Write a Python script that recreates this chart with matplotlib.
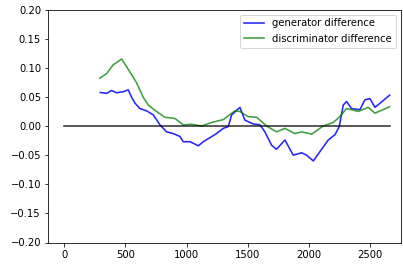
import matplotlib
matplotlib.use("Agg")
import matplotlib.pyplot as plt

# values
gen_x = [295, 346, 387, 428, 483, 523, 549, 579, 618, 673, 728, 782, 837, 891, 946,
         973, 1027, 1068, 1096, 1136, 1191, 1245, 1300, 1341, 1368, 1436, 1477, 1545,
         1600, 1640, 1695, 1735, 1804, 1872, 1940, 1981, 2036, 2090, 2158, 2213, 2248,
         2281, 2308, 2348, 2417, 2458, 2499, 2540, 2581, 2660]
gen_y = [0.0575, 0.056, 0.061, 0.057, 0.059, 0.062, 0.050, 0.039, 0.030, 0.026,
         0.019, 0.002, -0.010, -0.013, -0.018, -0.027, -0.027, -0.031, -0.034,
         -0.027, -0.020, -0.013, -0.004, -0.001, 0.019, 0.032, 0.010, 0.0035, 0.002,
         -0.010, -0.033, -0.040, -0.024, -0.050, -0.046, -0.050, -0.060, -0.044,
         -0.024, -0.015, -0.001, 0.036, 0.042, 0.030, 0.028, 0.045, 0.047, 0.032,
         0.039, 0.053]

dis_x = [291, 346, 400, 469, 509, 592, 646, 687, 754, 823, 904, 973, 1041, 1122,
         1205, 1300, 1395, 1436, 1504, 1573, 1654, 1735, 1804, 1885, 1940, 2022,
         2117, 2199, 2253, 2308, 2403, 2485, 2540, 2660]
dis_y = [0.082, 0.090, 0.105, 0.115, 0.102, 0.074, 0.049, 0.036, 0.025, 0.015,
         0.013, 0.002, 0.003, 0.000, 0.006, 0.011, 0.026, 0.025, 0.016, 0.015,
         0.000, -0.010, -0.004, -0.013, -0.010, -0.014, 0.000, 0.006, 0.016, 0.030,
         0.025, 0.032, 0.022, 0.033]

zero_x = [0, 2660]
zero_y = [0, 0]

fig = plt.figure(figsize=(403 / 72, 264 / 72), dpi=72)
ax = fig.add_axes([48 / 403, 1 - 242.5 / 264, 353 / 403, 233 / 264])

ax.plot(gen_x, gen_y, color='b', alpha=0.85, lw=1.6, label='generator difference')
ax.plot(dis_x, dis_y, color='g', alpha=0.75, lw=1.6, label='discriminator difference')
ax.plot(zero_x, zero_y, color='k', alpha=0.8, lw=1.6)

ax.set_ylim(-0.2, 0.2)
ax.set_xlim(-133, 2753)
ax.set_xticks([0, 500, 1000, 1500, 2000, 2500])
ax.set_yticks([-0.2, -0.15, -0.1, -0.05, 0, 0.05, 0.1, 0.15, 0.2])
ax.set_yticklabels(['\u22120.20', '\u22120.15', '\u22120.10', '\u22120.05', '0.00',
                    '0.05', '0.10', '0.15', '0.20'])
ax.legend(loc='upper right')

fig.savefig('out.png', dpi=72)
